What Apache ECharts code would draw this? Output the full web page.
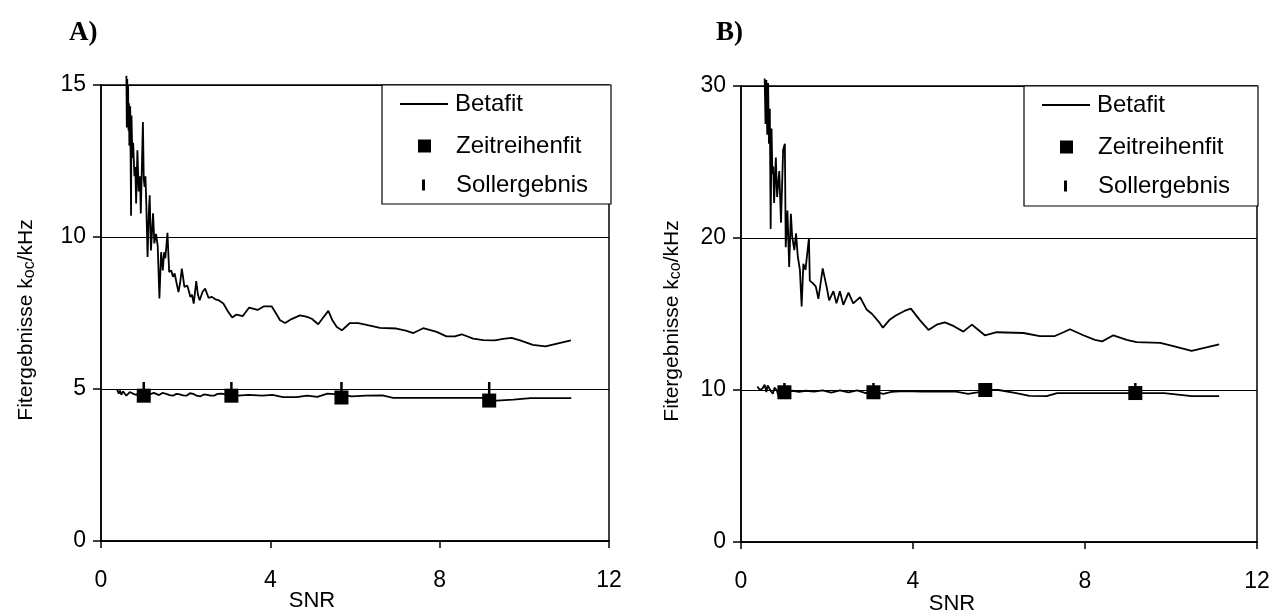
<!DOCTYPE html>
<html>
<head>
<meta charset="utf-8">
<script src="https://cdn.jsdelivr.net/npm/echarts@6/dist/echarts.min.js"></script>
<style>
html,body{margin:0;padding:0;background:#fff;}
#c{width:1274px;height:612px;}
</style>
</head>
<body>
<div id="c"></div>
<script>
// ---------- data ----------
const yMaxA = 15, yStepA = 5;
const yMaxB = 30, yStepB = 10;

// Panel A: Betafit (upper curve, noisy decay)
const betaA_hi = [
  [0.60,15.3],[0.61,13.6],[0.62,15.2],[0.63,13.9],[0.64,15.0],[0.65,13.5],[0.66,14.4],[0.67,13.0],
  [0.69,14.3],[0.71,10.7],[0.72,14.0],[0.74,12.6],[0.76,13.1],[0.79,12.0],[0.81,12.3],[0.83,11.1],
  [0.86,12.85],[0.89,11.5],[0.92,12.0],[0.94,10.77],[0.99,13.78],[1.01,11.9],[1.03,11.65],[1.05,12.0],
  [1.07,11.1],[1.10,9.34],[1.13,10.8],[1.15,11.37],[1.18,9.56],[1.21,10.3],[1.23,10.78],[1.26,9.79],
  [1.30,10.1],[1.34,9.7],[1.38,7.98],[1.42,9.5],[1.46,8.9],[1.49,9.5],[1.52,9.3],[1.57,10.14],
  [1.61,8.85],[1.66,8.9],[1.70,8.69],[1.74,8.8],[1.78,8.52],[1.83,8.19],[1.87,8.5],[1.91,8.96],
  [1.97,8.36],[2.04,8.4],[2.08,8.2],[2.11,8.03],[2.15,8.1],[2.19,7.81],[2.25,8.55],[2.29,8.1],
  [2.33,7.92],[2.40,8.2],[2.46,8.3],[2.54,8.0],[2.62,8.03],[2.70,7.95],[2.78,7.92],[2.89,7.81],
  [3.0,7.55],[3.1,7.35],[3.2,7.45],[3.35,7.4],[3.5,7.68],[3.7,7.6],[3.85,7.72],[4.03,7.72],
  [4.15,7.45],[4.23,7.26],[4.35,7.17],[4.5,7.3],[4.70,7.42],[4.85,7.38],[4.98,7.31],[5.13,7.13],
  [5.25,7.35],[5.37,7.57],[5.47,7.25],[5.57,7.04],[5.69,6.93],[5.88,7.17],[6.08,7.17],[6.3,7.1],
  [6.59,7.01],[6.98,6.99],[7.2,6.92],[7.38,6.84],[7.61,7.0],[7.93,6.88],[8.16,6.73],[8.36,6.73],
  [8.52,6.8],[8.79,6.66],[9.03,6.61],[9.3,6.6],[9.5,6.65],[9.7,6.68],[9.9,6.6],[10.2,6.45],
  [10.5,6.4],[10.8,6.5],[11.1,6.6]
];
// Panel A: Betafit (lower curve near 5)
const betaA_lo = [
  [0.38,4.98],[0.42,4.85],[0.45,4.95],[0.48,4.81],[0.52,4.92],[0.56,4.9],[0.60,4.78],[0.64,4.78],
  [0.68,4.9],[0.72,4.94],[0.78,4.83],[0.84,4.81],[0.9,4.88],[0.96,4.8],[1.05,4.85],[1.15,4.82],
  [1.25,4.87],[1.37,4.8],[1.45,4.87],[1.54,4.84],[1.62,4.8],[1.70,4.78],[1.78,4.84],[1.86,4.82],
  [1.94,4.79],[2.02,4.78],[2.10,4.86],[2.18,4.84],[2.26,4.78],[2.35,4.76],[2.43,4.82],[2.51,4.81],
  [2.59,4.78],[2.67,4.78],[2.75,4.84],[2.84,4.85],[2.95,4.82],[3.08,4.8],[3.24,4.78],[3.49,4.81],
  [3.81,4.78],[4.05,4.81],[4.30,4.73],[4.62,4.73],[4.87,4.78],[5.11,4.74],[5.35,4.85],[5.60,4.82],
  [5.92,4.76],[6.25,4.78],[6.65,4.79],[6.90,4.71],[7.47,4.71],[9.01,4.71],[9.34,4.62],[9.74,4.65],
  [10.15,4.7],[11.11,4.7]
];
const fitX  = [1.01, 3.08, 5.68, 9.17];
const zeitA = [4.78, 4.78, 4.72, 4.62];
const sollA = [5, 5, 5, 5];

// Panel B: Betafit (upper curve)
const betaB_hi = [
  [0.55,30.5],[0.57,27.5],[0.59,30.4],[0.61,26.8],[0.63,30.2],[0.65,26.2],[0.67,28.5],[0.69,20.6],
  [0.71,27.2],[0.73,24.2],[0.75,24.7],[0.77,22.3],[0.81,25.3],[0.84,22.7],[0.89,24.4],[0.93,21.0],
  [0.98,25.8],[1.02,26.2],[1.04,19.4],[1.08,21.8],[1.12,18.1],[1.16,21.6],[1.19,20.1],[1.24,19.2],
  [1.28,20.3],[1.32,18.8],[1.37,17.9],[1.41,15.5],[1.45,18.3],[1.50,17.9],[1.53,18.7],[1.58,20.0],
  [1.60,17.2],[1.68,17.0],[1.74,16.8],[1.80,16.0],[1.90,18.0],[1.99,16.8],[2.05,15.9],[2.15,16.5],
  [2.22,15.7],[2.30,16.5],[2.38,15.6],[2.50,16.4],[2.61,15.7],[2.77,16.1],[2.92,15.3],[3.05,15.0],
  [3.2,14.5],[3.3,14.1],[3.45,14.6],[3.6,14.9],[3.8,15.2],[3.95,15.35],[4.16,14.6],[4.36,13.95],
  [4.55,14.3],[4.74,14.45],[4.95,14.2],[5.17,13.84],[5.37,14.3],[5.5,14.0],[5.67,13.6],[5.95,13.8],
  [6.57,13.75],[6.95,13.55],[7.30,13.55],[7.50,13.8],[7.65,14.0],[7.96,13.6],[8.23,13.3],[8.4,13.2],
  [8.66,13.6],[8.97,13.3],[9.2,13.15],[9.75,13.1],[10.1,12.85],[10.48,12.57],[11.12,13.0]
];
// Panel B: Betafit (lower curve near 10)
const betaB_lo = [
  [0.38,10.23],[0.44,10.0],[0.50,10.1],[0.55,10.35],[0.59,9.87],[0.62,10.3],[0.66,10.2],[0.70,9.9],
  [0.74,9.75],[0.78,10.15],[0.83,10.0],[0.87,9.6],[0.92,9.95],[1.03,9.9],[1.2,9.95],[1.35,9.88],
  [1.5,9.95],[1.7,9.9],[1.9,9.98],[2.1,9.82],[2.3,9.98],[2.5,9.85],[2.7,9.98],[2.9,9.8],
  [3.08,9.9],[3.31,9.75],[3.5,9.88],[3.8,9.92],[4.2,9.9],[4.6,9.9],[5.0,9.9],[5.28,9.75],
  [5.5,9.85],[5.69,10.0],[5.99,10.0],[6.4,9.8],[6.71,9.62],[7.11,9.6],[7.35,9.8],[8.55,9.8],
  [9.17,9.8],[9.84,9.8],[10.48,9.6],[11.12,9.6]
];
const zeitB = [9.85, 9.85, 10.0, 9.8];
const sollB = [10, 10, 10, 10];

const names = ['Betafit', 'Zeitreihenfit', 'Sollergebnis'];

// ---------- chart ----------
const FONT = 'Liberation Sans';
const pair = (xs, ys) => xs.map((x, i) => [x, ys[i]]);

function xAxis(gi, nameGap, shift) {
  return {
    type: 'value', gridIndex: gi, min: 0, max: 12, interval: 4,
    axisLine: {show: true, onZero: false, lineStyle: {color: '#000', width: 1.5}},
    axisTick: {show: true, length: 7, lineStyle: {color: '#000', width: 1.5}},
    axisLabel: {color: '#000', fontSize: 23, fontFamily: FONT, margin: 28},
    splitLine: {show: false},
    name: 'SNR', nameLocation: 'middle', nameGap: nameGap, nameMoveOverlap: false,
    nameTextStyle: {color: '#000', fontSize: 22, fontFamily: FONT, padding: [0, shift, 0, 0]}
  };
}
function yAxis(gi, max, step, sub, nameGap) {
  return {
    type: 'value', gridIndex: gi, min: 0, max: max, interval: step,
    axisLine: {show: true, lineStyle: {color: '#000', width: 1.5}},
    axisTick: {show: true, length: 8, lineStyle: {color: '#000', width: 1.5}},
    axisLabel: {color: '#000', fontSize: 23, fontFamily: FONT, margin: 15},
    splitLine: {show: true, lineStyle: {color: '#000', width: 1}},
    name: '{a|Fitergebnisse k}{b|' + sub + '}{a|/kHz}',
    nameLocation: 'middle', nameGap: nameGap, nameMoveOverlap: false,
    nameTextStyle: {
      color: '#000', padding: [0, 14, 0, 0],
      rich: {
        a: {fontSize: 21, fontFamily: FONT, color: '#000', lineHeight: 24},
        b: {fontSize: 16, fontFamily: FONT, color: '#000', lineHeight: 24, verticalAlign: 'bottom'}
      }
    }
  };
}
function lineSeries(data, gi) {
  return {
    type: 'line', name: names[0], xAxisIndex: gi, yAxisIndex: gi, data: data,
    symbol: 'none', clip: false, z: 3,
    lineStyle: {color: '#000', width: 1.8}, itemStyle: {color: '#000'}
  };
}
function legends(bx, by, rows) {
  const ts = (pad) => ({color: '#000', fontSize: 24, fontFamily: FONT, padding: [0, 0, 0, pad], lineHeight: 26});
  return [
    {data: [{name: names[0], icon: 'rect'}], left: bx + 18, top: by + rows[0] - 13, itemWidth: 48, itemHeight: 1.8,
     selectedMode: false, padding: 0, z: 20, textStyle: ts(2), itemStyle: {color: '#000', opacity: 1}},
    {data: [{name: names[1], icon: 'rect'}], left: bx + 36, top: by + rows[1] - 13, itemWidth: 13, itemHeight: 13,
     selectedMode: false, padding: 0, z: 20, textStyle: ts(20), itemStyle: {color: '#000', opacity: 1}},
    {data: [{name: names[2], icon: 'rect'}], left: bx + 40, top: by + rows[2] - 13, itemWidth: 3, itemHeight: 11,
     selectedMode: false, padding: 0, z: 20, textStyle: ts(26), itemStyle: {color: '#000', opacity: 1}}
  ];
}

const chart = echarts.init(document.getElementById('c'), null, {renderer: 'canvas'});
chart.setOption({
  animation: false,
  backgroundColor: '#fff',
  title: [
    {text: 'A)', left: 64, top: 15, textStyle: {fontFamily: 'Liberation Serif', fontWeight: 'bold', fontSize: 27, color: '#000'}},
    {text: 'B)', left: 711, top: 15, textStyle: {fontFamily: 'Liberation Serif', fontWeight: 'bold', fontSize: 27, color: '#000'}}
  ],
  grid: [
    {left: 101, top: 85, width: 508, height: 456, show: true, borderColor: '#000', borderWidth: 1.5,
     backgroundColor: 'transparent', outerBoundsMode: 'none', containLabel: false},
    {left: 741, top: 86, width: 516, height: 456, show: true, borderColor: '#000', borderWidth: 1.5,
     backgroundColor: 'transparent', outerBoundsMode: 'none', containLabel: false}
  ],
  xAxis: [xAxis(0, 49, 86), xAxis(1, 51, 94)],
  yAxis: [yAxis(0, yMaxA, yStepA, 'oc', 63), yAxis(1, yMaxB, yStepB, 'co', 57)],
  legend: legends(382, 85, [19, 61, 100]).concat(legends(1024, 86, [19, 61, 100])),
  graphic: [
    {type: 'rect', z: 10, shape: {x: 382, y: 85, width: 229, height: 119}, style: {fill: '#fff', stroke: '#000', lineWidth: 1.2}},
    {type: 'rect', z: 10, shape: {x: 1024, y: 86, width: 234, height: 120}, style: {fill: '#fff', stroke: '#000', lineWidth: 1.2}}
  ],
  series: [
    lineSeries(betaA_hi, 0),
    lineSeries(betaA_lo, 0),
    {type: 'scatter', name: names[1], xAxisIndex: 0, yAxisIndex: 0, data: pair(fitX, zeitA),
     symbol: 'rect', symbolSize: 14, itemStyle: {color: '#000', opacity: 1}, z: 4},
    {type: 'scatter', name: names[2], xAxisIndex: 0, yAxisIndex: 0, data: pair(fitX, sollA),
     symbol: 'rect', symbolSize: [2.5, 14], itemStyle: {color: '#000', opacity: 1}, z: 5},
    lineSeries(betaB_hi, 1),
    lineSeries(betaB_lo, 1),
    {type: 'scatter', name: names[1], xAxisIndex: 1, yAxisIndex: 1, data: pair(fitX, zeitB),
     symbol: 'rect', symbolSize: 14, itemStyle: {color: '#000', opacity: 1}, z: 4},
    {type: 'scatter', name: names[2], xAxisIndex: 1, yAxisIndex: 1, data: pair(fitX, sollB),
     symbol: 'rect', symbolSize: [2.5, 14], itemStyle: {color: '#000', opacity: 1}, z: 5}
  ]
});
</script>
</body>
</html>
